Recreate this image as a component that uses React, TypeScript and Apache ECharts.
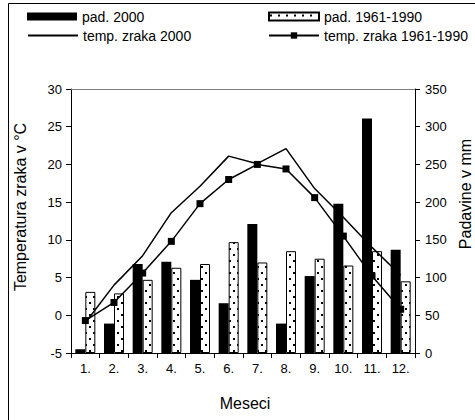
import React, { useEffect, useRef } from "react";
import * as echarts from "echarts";

const months = ["1.", "2.", "3.", "4.", "5.", "6.", "7.", "8.", "9.", "10.", "11.", "12."];
const pad2000 = [5, 39, 118, 121, 97, 66, 171, 39, 102, 198, 311, 137];
const pad6190 = [81, 79, 97, 113, 118, 147, 120, 135, 125, 116, 135, 95];
const temp2000 = [-1.0, 4.0, 7.9, 13.6, 17.1, 21.1, 20.1, 22.1, 16.8, 13.0, 9.0, 5.3];
const temp6190 = [-0.7, 1.7, 5.6, 9.8, 14.8, 18.0, 20.0, 19.4, 15.6, 10.5, 5.2, 0.8];
const names = ["pad. 2000", "pad. 1961-1990", "temp. zraka 2000", "temp. zraka 1961-1990"];

const FONT = "Liberation Sans, Arial, sans-serif";

function makePattern() {
  const c = document.createElement("canvas");
  c.width = 8;
  c.height = 12;
  const ctx = c.getContext("2d");
  if (ctx) {
    ctx.fillStyle = "#fff";
    ctx.fillRect(0, 0, 8, 12);
    ctx.fillStyle = "#000";
    ctx.fillRect(1, 2, 2, 2);
    ctx.fillRect(5, 8, 2, 2);
  }
  return c;
}

export default function App() {
  const ref = useRef<HTMLDivElement>(null);
  useEffect(() => {
    if (!ref.current) return;
    const chart = echarts.init(ref.current, undefined, { renderer: "svg" });
    const pat = makePattern();
    const dotted: any = { image: pat, repeat: "repeat", imageWidth: 8, imageHeight: 12 };
    const txt = { color: "#000", fontFamily: FONT, fontSize: 14 };
    const legendBase = { itemWidth: 50, itemHeight: 8, padding: 0, itemGap: 0, textStyle: txt };
    chart.setOption({
      animation: false,
      backgroundColor: "#fff",
      grid: { left: 71, top: 89, width: 344, height: 264, containLabel: false },
      legend: [
        { ...legendBase, data: [names[0]], left: 27, top: 9.5, icon: "rect" },
        { ...legendBase, data: [names[1]], left: 268, top: 9.5, icon: "rect" },
        { ...legendBase, data: [names[2]], left: 27, top: 28.5, itemStyle: { opacity: 0 } },
        { ...legendBase, data: [names[3]], left: 268, top: 28.5 },
      ],
      xAxis: [
        {
          type: "category",
          data: months,
          position: "bottom",
          axisLine: { onZero: false, lineStyle: { color: "#000", width: 1 } },
          axisTick: { show: true, length: 5, lineStyle: { color: "#000" } },
          axisLabel: { color: "#000", fontFamily: FONT, fontSize: 13, margin: 9 },
        },
        {
          type: "category",
          data: months,
          position: "top",
          axisLine: { onZero: false, lineStyle: { color: "#808080", width: 1 } },
          axisTick: { show: false },
          axisLabel: { show: false },
        },
      ],
      yAxis: [
        {
          type: "value",
          position: "left",
          min: -5,
          max: 30,
          interval: 5,
          axisLine: { show: true, onZero: false, lineStyle: { color: "#000" } },
          axisTick: { show: true, length: 5, lineStyle: { color: "#000" } },
          axisLabel: { color: "#000", fontFamily: FONT, fontSize: 13, margin: 9 },
          splitLine: { show: false },
        },
        {
          type: "value",
          position: "right",
          min: 0,
          max: 350,
          interval: 50,
          axisLine: { show: true, onZero: false, lineStyle: { color: "#000" } },
          axisTick: { show: true, length: 5, lineStyle: { color: "#000" } },
          axisLabel: { color: "#000", fontFamily: FONT, fontSize: 13, margin: 10 },
          splitLine: { show: false },
        },
      ],
      series: [
        {
          name: names[0],
          type: "bar",
          yAxisIndex: 1,
          data: pad2000,
          barWidth: 10,
          barGap: "0%",
          itemStyle: { color: "#000" },
        },
        {
          name: names[1],
          type: "bar",
          yAxisIndex: 1,
          data: pad6190,
          barWidth: 10,
          barGap: "0%",
          itemStyle: { color: dotted, borderColor: "#000", borderWidth: 1 },
        },
        {
          name: names[2],
          type: "line",
          yAxisIndex: 0,
          data: temp2000,
          symbol: "none",
          lineStyle: { color: "#000", width: 1.5 },
          itemStyle: { color: "#000" },
          z: 5,
        },
        {
          name: names[3],
          type: "line",
          yAxisIndex: 0,
          data: temp6190,
          symbol: "rect",
          symbolSize: 7,
          lineStyle: { color: "#000", width: 1.5 },
          itemStyle: { color: "#000" },
          z: 6,
        },
      ],
      graphic: [
        {
          type: "rect",
          z: -10,
          silent: true,
          shape: { x: 8.5, y: 3.5, width: 500, height: 500 },
          style: { fill: "none", stroke: "#000", lineWidth: 1 },
        },
        {
          type: "text",
          x: 20,
          y: 207,
          rotation: Math.PI / 2,
          style: { text: "Temperatura zraka v °C", font: `16px ${FONT}`, fill: "#000", align: "center", verticalAlign: "middle" },
        },
        {
          type: "text",
          x: 465,
          y: 194,
          rotation: Math.PI / 2,
          style: { text: "Padavine v mm", font: `16px ${FONT}`, fill: "#000", align: "center", verticalAlign: "middle" },
        },
        {
          type: "text",
          x: 245,
          y: 403,
          style: { text: "Meseci", font: `16px ${FONT}`, fill: "#000", align: "center", verticalAlign: "middle" },
        },
      ],
    });
    return () => chart.dispose();
  }, []);
  return (
    <div
      ref={ref}
      style={{ position: "fixed", left: 0, top: 0, width: 475, height: 420, background: "#fff" }}
    />
  );
}
